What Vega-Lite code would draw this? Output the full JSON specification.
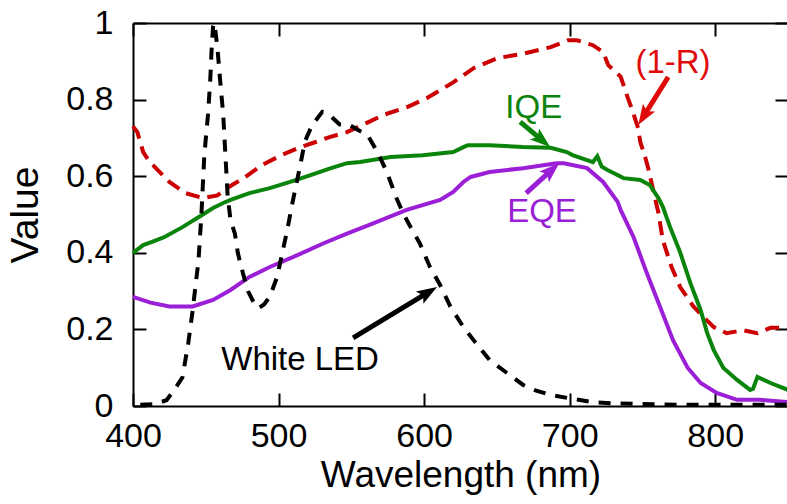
{
  "$schema": "https://vega.github.io/schema/vega-lite/v6.json",
  "width": 655,
  "height": 383,
  "autosize": {"type": "none"},
  "padding": {"left": 133, "top": 23, "right": 0, "bottom": 98},
  "background": "white",
  "config": {
    "font": "Liberation Sans",
    "view": {"stroke": null},
    "axis": {
      "labelColor": "black", "titleColor": "black", "grid": false, "labelFlush": false, "labelOverlap": false,
      "labelFont": "Liberation Sans", "titleFont": "Liberation Sans"
    }
  },
  "datasets": {
    "curves": [
      {"s": "1-R", "wl": 400, "v": 0.73}, {"s": "1-R", "wl": 403, "v": 0.715}, {"s": "1-R", "wl": 407, "v": 0.663}, {"s": "1-R", "wl": 411, "v": 0.64}, {"s": "1-R", "wl": 416, "v": 0.62}, {"s": "1-R", "wl": 425, "v": 0.585}, {"s": "1-R", "wl": 436, "v": 0.556}, {"s": "1-R", "wl": 448, "v": 0.543}, {"s": "1-R", "wl": 458, "v": 0.55}, {"s": "1-R", "wl": 465, "v": 0.57}, {"s": "1-R", "wl": 476, "v": 0.595}, {"s": "1-R", "wl": 489, "v": 0.63}, {"s": "1-R", "wl": 502, "v": 0.655}, {"s": "1-R", "wl": 515, "v": 0.676}, {"s": "1-R", "wl": 526, "v": 0.69}, {"s": "1-R", "wl": 535, "v": 0.702}, {"s": "1-R", "wl": 547, "v": 0.715}, {"s": "1-R", "wl": 561, "v": 0.74}, {"s": "1-R", "wl": 572, "v": 0.76}, {"s": "1-R", "wl": 588, "v": 0.78}, {"s": "1-R", "wl": 602, "v": 0.804}, {"s": "1-R", "wl": 620, "v": 0.845}, {"s": "1-R", "wl": 634, "v": 0.882}, {"s": "1-R", "wl": 650, "v": 0.908}, {"s": "1-R", "wl": 668, "v": 0.92}, {"s": "1-R", "wl": 687, "v": 0.937}, {"s": "1-R", "wl": 699, "v": 0.955}, {"s": "1-R", "wl": 705, "v": 0.955}, {"s": "1-R", "wl": 716, "v": 0.942}, {"s": "1-R", "wl": 723, "v": 0.924}, {"s": "1-R", "wl": 726.5, "v": 0.89}, {"s": "1-R", "wl": 735, "v": 0.86}, {"s": "1-R", "wl": 740, "v": 0.804}, {"s": "1-R", "wl": 743, "v": 0.773}, {"s": "1-R", "wl": 747, "v": 0.726}, {"s": "1-R", "wl": 748.5, "v": 0.69}, {"s": "1-R", "wl": 752, "v": 0.648}, {"s": "1-R", "wl": 754, "v": 0.62}, {"s": "1-R", "wl": 757, "v": 0.57}, {"s": "1-R", "wl": 761, "v": 0.504}, {"s": "1-R", "wl": 764, "v": 0.433}, {"s": "1-R", "wl": 770, "v": 0.363}, {"s": "1-R", "wl": 776, "v": 0.31}, {"s": "1-R", "wl": 785, "v": 0.26}, {"s": "1-R", "wl": 792, "v": 0.232}, {"s": "1-R", "wl": 799, "v": 0.206}, {"s": "1-R", "wl": 808, "v": 0.19}, {"s": "1-R", "wl": 819, "v": 0.198}, {"s": "1-R", "wl": 829, "v": 0.19}, {"s": "1-R", "wl": 838, "v": 0.204}, {"s": "1-R", "wl": 850, "v": 0.204},

      {"s": "IQE", "wl": 400, "v": 0.40}, {"s": "IQE", "wl": 407, "v": 0.42}, {"s": "IQE", "wl": 414, "v": 0.43}, {"s": "IQE", "wl": 421, "v": 0.44}, {"s": "IQE", "wl": 434, "v": 0.467}, {"s": "IQE", "wl": 448, "v": 0.50}, {"s": "IQE", "wl": 455, "v": 0.517}, {"s": "IQE", "wl": 462, "v": 0.53}, {"s": "IQE", "wl": 467, "v": 0.538}, {"s": "IQE", "wl": 480, "v": 0.556}, {"s": "IQE", "wl": 494, "v": 0.569}, {"s": "IQE", "wl": 508, "v": 0.585}, {"s": "IQE", "wl": 522, "v": 0.603}, {"s": "IQE", "wl": 535, "v": 0.62}, {"s": "IQE", "wl": 547, "v": 0.634}, {"s": "IQE", "wl": 556, "v": 0.637}, {"s": "IQE", "wl": 577, "v": 0.65}, {"s": "IQE", "wl": 599, "v": 0.655}, {"s": "IQE", "wl": 620, "v": 0.663}, {"s": "IQE", "wl": 627, "v": 0.676}, {"s": "IQE", "wl": 630, "v": 0.681}, {"s": "IQE", "wl": 645, "v": 0.681}, {"s": "IQE", "wl": 668, "v": 0.676}, {"s": "IQE", "wl": 687, "v": 0.674}, {"s": "IQE", "wl": 698, "v": 0.663}, {"s": "IQE", "wl": 702, "v": 0.655}, {"s": "IQE", "wl": 716, "v": 0.637}, {"s": "IQE", "wl": 719, "v": 0.652}, {"s": "IQE", "wl": 722, "v": 0.625}, {"s": "IQE", "wl": 726, "v": 0.616}, {"s": "IQE", "wl": 737, "v": 0.595}, {"s": "IQE", "wl": 748.5, "v": 0.59}, {"s": "IQE", "wl": 755, "v": 0.577}, {"s": "IQE", "wl": 761, "v": 0.543}, {"s": "IQE", "wl": 764, "v": 0.52}, {"s": "IQE", "wl": 769, "v": 0.467}, {"s": "IQE", "wl": 776, "v": 0.40}, {"s": "IQE", "wl": 783, "v": 0.32}, {"s": "IQE", "wl": 790, "v": 0.25}, {"s": "IQE", "wl": 794.5, "v": 0.19}, {"s": "IQE", "wl": 799, "v": 0.146}, {"s": "IQE", "wl": 805.5, "v": 0.10}, {"s": "IQE", "wl": 815, "v": 0.068}, {"s": "IQE", "wl": 824, "v": 0.042}, {"s": "IQE", "wl": 826, "v": 0.045}, {"s": "IQE", "wl": 829, "v": 0.076}, {"s": "IQE", "wl": 838, "v": 0.06}, {"s": "IQE", "wl": 850, "v": 0.042},

      {"s": "EQE", "wl": 400, "v": 0.285}, {"s": "EQE", "wl": 412, "v": 0.27}, {"s": "EQE", "wl": 425, "v": 0.26}, {"s": "EQE", "wl": 441, "v": 0.26}, {"s": "EQE", "wl": 455, "v": 0.277}, {"s": "EQE", "wl": 467, "v": 0.303}, {"s": "EQE", "wl": 480, "v": 0.337}, {"s": "EQE", "wl": 494, "v": 0.363}, {"s": "EQE", "wl": 513, "v": 0.394}, {"s": "EQE", "wl": 531, "v": 0.425}, {"s": "EQE", "wl": 547, "v": 0.45}, {"s": "EQE", "wl": 565, "v": 0.477}, {"s": "EQE", "wl": 588, "v": 0.512}, {"s": "EQE", "wl": 611, "v": 0.538}, {"s": "EQE", "wl": 620, "v": 0.559}, {"s": "EQE", "wl": 627, "v": 0.585}, {"s": "EQE", "wl": 632, "v": 0.598}, {"s": "EQE", "wl": 645, "v": 0.611}, {"s": "EQE", "wl": 668, "v": 0.621}, {"s": "EQE", "wl": 691, "v": 0.634}, {"s": "EQE", "wl": 696, "v": 0.634}, {"s": "EQE", "wl": 712, "v": 0.621}, {"s": "EQE", "wl": 723, "v": 0.585}, {"s": "EQE", "wl": 733, "v": 0.533}, {"s": "EQE", "wl": 735, "v": 0.512}, {"s": "EQE", "wl": 744, "v": 0.44}, {"s": "EQE", "wl": 753, "v": 0.347}, {"s": "EQE", "wl": 762, "v": 0.26}, {"s": "EQE", "wl": 771, "v": 0.172}, {"s": "EQE", "wl": 781, "v": 0.10}, {"s": "EQE", "wl": 790, "v": 0.06}, {"s": "EQE", "wl": 801, "v": 0.034}, {"s": "EQE", "wl": 815, "v": 0.016}, {"s": "EQE", "wl": 831, "v": 0.016}, {"s": "EQE", "wl": 850, "v": 0.01},

      {"s": "LED", "wl": 405, "v": 0.003}, {"s": "LED", "wl": 415, "v": 0.005}, {"s": "LED", "wl": 423, "v": 0.015}, {"s": "LED", "wl": 428, "v": 0.04}, {"s": "LED", "wl": 434, "v": 0.075}, {"s": "LED", "wl": 438, "v": 0.165}, {"s": "LED", "wl": 441, "v": 0.25}, {"s": "LED", "wl": 445, "v": 0.38}, {"s": "LED", "wl": 447, "v": 0.5}, {"s": "LED", "wl": 449, "v": 0.655}, {"s": "LED", "wl": 451.5, "v": 0.76}, {"s": "LED", "wl": 453, "v": 0.845}, {"s": "LED", "wl": 454, "v": 0.93}, {"s": "LED", "wl": 455, "v": 0.99}, {"s": "LED", "wl": 456, "v": 1.0}, {"s": "LED", "wl": 458, "v": 0.935}, {"s": "LED", "wl": 460, "v": 0.845}, {"s": "LED", "wl": 462, "v": 0.76}, {"s": "LED", "wl": 463.5, "v": 0.655}, {"s": "LED", "wl": 465, "v": 0.55}, {"s": "LED", "wl": 467, "v": 0.485}, {"s": "LED", "wl": 470, "v": 0.45}, {"s": "LED", "wl": 472, "v": 0.40}, {"s": "LED", "wl": 475.5, "v": 0.347}, {"s": "LED", "wl": 479, "v": 0.30}, {"s": "LED", "wl": 483, "v": 0.27}, {"s": "LED", "wl": 486, "v": 0.255}, {"s": "LED", "wl": 490, "v": 0.265}, {"s": "LED", "wl": 494, "v": 0.285}, {"s": "LED", "wl": 499, "v": 0.337}, {"s": "LED", "wl": 502, "v": 0.39}, {"s": "LED", "wl": 506, "v": 0.46}, {"s": "LED", "wl": 509.5, "v": 0.53}, {"s": "LED", "wl": 515, "v": 0.63}, {"s": "LED", "wl": 518, "v": 0.69}, {"s": "LED", "wl": 523, "v": 0.733}, {"s": "LED", "wl": 530, "v": 0.768}, {"s": "LED", "wl": 535, "v": 0.76}, {"s": "LED", "wl": 542, "v": 0.735}, {"s": "LED", "wl": 549, "v": 0.733}, {"s": "LED", "wl": 555, "v": 0.72}, {"s": "LED", "wl": 561, "v": 0.708}, {"s": "LED", "wl": 568, "v": 0.663}, {"s": "LED", "wl": 574.5, "v": 0.61}, {"s": "LED", "wl": 581, "v": 0.543}, {"s": "LED", "wl": 585.5, "v": 0.504}, {"s": "LED", "wl": 591, "v": 0.465}, {"s": "LED", "wl": 597, "v": 0.425}, {"s": "LED", "wl": 604, "v": 0.363}, {"s": "LED", "wl": 611, "v": 0.316}, {"s": "LED", "wl": 618, "v": 0.26}, {"s": "LED", "wl": 627, "v": 0.206}, {"s": "LED", "wl": 634, "v": 0.172}, {"s": "LED", "wl": 645, "v": 0.12}, {"s": "LED", "wl": 657, "v": 0.086}, {"s": "LED", "wl": 668, "v": 0.055}, {"s": "LED", "wl": 677, "v": 0.04}, {"s": "LED", "wl": 687, "v": 0.029}, {"s": "LED", "wl": 700, "v": 0.02}, {"s": "LED", "wl": 716, "v": 0.01}, {"s": "LED", "wl": 730, "v": 0.007}, {"s": "LED", "wl": 750, "v": 0.005}, {"s": "LED", "wl": 780, "v": 0.003}, {"s": "LED", "wl": 850, "v": 0.003}
    ],
    "labels": [
      {"s": "LED", "text": "White LED", "wl": 514.8, "v": 0.094},
      {"s": "IQE", "text": "IQE", "wl": 675.3, "v": 0.752},
      {"s": "EQE", "text": "EQE", "wl": 681, "v": 0.48},
      {"s": "1-R", "text": "(1-R)", "wl": 771, "v": 0.869}
    ],
    "arrows": [
      {"s": "LED", "wl": 551.2, "v": 0.178, "wl2": 601.9, "v2": 0.2945, "twl": 608.9, "tv": 0.3107},
      {"s": "IQE", "wl": 666, "v": 0.742, "wl2": 680.3, "v2": 0.696, "twl": 686.6, "tv": 0.676},
      {"s": "EQE", "wl": 670.1, "v": 0.556, "wl2": 686.7, "v2": 0.613, "twl": 692.8, "tv": 0.634},
      {"s": "1-R", "wl": 767.7, "v": 0.859, "wl2": 751.4, "v2": 0.76, "twl": 747.1, "tv": 0.734}
    ]
  },
  "resolve": {"axis": {"x": "independent", "y": "independent"}},
  "layer": [
    {
      "data": {"name": "curves"},
      "transform": [{"filter": "datum.s === '1-R'"}],
      "mark": {"type": "line", "color": "#cc0000", "strokeWidth": 4, "strokeDash": [14, 8]},
      "encoding": {
        "x": {"field": "wl", "type": "quantitative", "scale": {"domain": [400, 850], "nice": false, "zero": false},
              "axis": {"orient": "bottom", "values": [400, 500, 600, 700, 800], "domain": true, "domainColor": "#000000", "domainWidth": 2,
                       "ticks": false, "labelPadding": 13,
                       "labelFontSize": 34, "title": "Wavelength (nm)", "titleFontSize": 37, "titleFontWeight": "normal", "titlePadding": 4}},
        "y": {"field": "v", "type": "quantitative", "scale": {"domain": [0, 1], "nice": false, "zero": false},
              "axis": {"orient": "left", "values": [0, 0.2, 0.4, 0.6, 0.8, 1], "format": "~g", "domain": true, "domainColor": "#000000", "domainWidth": 2,
                       "ticks": false, "labelPadding": 20,
                       "labelFontSize": 34, "title": "Value", "titleFontSize": 39, "titleFontWeight": "normal", "titlePadding": 20}}
      }
    },
    {
      "data": {"name": "curves"},
      "transform": [{"filter": "datum.s === 'IQE'"}],
      "mark": {"type": "line", "color": "#0a840a", "strokeWidth": 4},
      "encoding": {
        "x": {"field": "wl", "type": "quantitative", "scale": {"domain": [400, 850], "nice": false, "zero": false},
              "axis": {"orient": "top", "values": [400, 500, 600, 700, 800], "labels": false, "title": null, "domain": true, "domainColor": "#000000", "domainWidth": 2, "ticks": true, "tickColor": "#000000", "tickWidth": 2, "tickSize": -13}},
        "y": {"field": "v", "type": "quantitative", "scale": {"domain": [0, 1], "nice": false, "zero": false},
              "axis": {"orient": "right", "values": [0, 0.2, 0.4, 0.6, 0.8, 1], "labels": false, "title": null, "domain": true, "domainColor": "#000000", "domainWidth": 2, "ticks": true, "tickColor": "#000000", "tickWidth": 2, "tickSize": -13}}
      }
    },
    {
      "data": {"name": "curves"},
      "transform": [{"filter": "datum.s === 'EQE'"}],
      "mark": {"type": "line", "color": "#9b1fd6", "strokeWidth": 4},
      "encoding": {
        "x": {"field": "wl", "type": "quantitative", "scale": {"domain": [400, 850], "nice": false, "zero": false},
              "axis": {"orient": "bottom", "values": [400, 500, 600, 700, 800], "labels": false, "title": null, "domain": false, "ticks": true, "tickColor": "#000000", "tickWidth": 2, "tickSize": -13}},
        "y": {"field": "v", "type": "quantitative", "scale": {"domain": [0, 1], "nice": false, "zero": false},
              "axis": {"orient": "left", "values": [0, 0.2, 0.4, 0.6, 0.8, 1], "labels": false, "title": null, "domain": false, "ticks": true, "tickColor": "#000000", "tickWidth": 2, "tickSize": -13}}
      }
    },
    {
      "data": {"name": "curves"},
      "transform": [{"filter": "datum.s === 'LED'"}],
      "mark": {"type": "line", "color": "black", "strokeWidth": 4, "strokeDash": [12, 10]},
      "encoding": {
        "x": {"field": "wl", "type": "quantitative", "scale": {"domain": [400, 850], "nice": false, "zero": false}, "axis": null},
        "y": {"field": "v", "type": "quantitative", "scale": {"domain": [0, 1], "nice": false, "zero": false}, "axis": null}
      }
    },
    {
      "data": {"name": "arrows"},
      "mark": {"type": "rule", "strokeWidth": 5, "strokeCap": "butt"},
      "encoding": {
        "x": {"field": "wl", "type": "quantitative", "scale": {"domain": [400, 850], "nice": false, "zero": false}, "axis": null},
        "y": {"field": "v", "type": "quantitative", "scale": {"domain": [0, 1], "nice": false, "zero": false}, "axis": null},
        "x2": {"field": "wl2"},
        "y2": {"field": "v2"},
        "color": {"field": "s", "type": "nominal", "scale": {"domain": ["LED", "IQE", "EQE", "1-R"], "range": ["#000000", "#0a840a", "#9b1fd6", "#e00a0a"]}, "legend": null}
      }
    },
    {
      "data": {"name": "arrows"},
      "transform": [{"filter": "datum.s === 'LED'"}],
      "mark": {"type": "point", "shape": "M0,0L0.6,1.7L0,1.35L-0.6,1.7Z", "filled": true, "size": 576, "angle": 58.7, "color": "#000000", "opacity": 1},
      "encoding": {
        "x": {"field": "twl", "type": "quantitative", "scale": {"domain": [400, 850], "nice": false, "zero": false}, "axis": null},
        "y": {"field": "tv", "type": "quantitative", "scale": {"domain": [0, 1], "nice": false, "zero": false}, "axis": null}
      }
    },
    {
      "data": {"name": "arrows"},
      "transform": [{"filter": "datum.s === 'IQE'"}],
      "mark": {"type": "point", "shape": "M0,0L0.6,1.7L0,1.35L-0.6,1.7Z", "filled": true, "size": 576, "angle": 129.8, "color": "#0a840a", "opacity": 1},
      "encoding": {
        "x": {"field": "twl", "type": "quantitative", "scale": {"domain": [400, 850], "nice": false, "zero": false}, "axis": null},
        "y": {"field": "tv", "type": "quantitative", "scale": {"domain": [0, 1], "nice": false, "zero": false}, "axis": null}
      }
    },
    {
      "data": {"name": "arrows"},
      "transform": [{"filter": "datum.s === 'EQE'"}],
      "mark": {"type": "point", "shape": "M0,0L0.6,1.7L0,1.35L-0.6,1.7Z", "filled": true, "size": 576, "angle": 47.7, "color": "#9b1fd6", "opacity": 1},
      "encoding": {
        "x": {"field": "twl", "type": "quantitative", "scale": {"domain": [400, 850], "nice": false, "zero": false}, "axis": null},
        "y": {"field": "tv", "type": "quantitative", "scale": {"domain": [0, 1], "nice": false, "zero": false}, "axis": null}
      }
    },
    {
      "data": {"name": "arrows"},
      "transform": [{"filter": "datum.s === '1-R'"}],
      "mark": {"type": "point", "shape": "M0,0L0.6,1.7L0,1.35L-0.6,1.7Z", "filled": true, "size": 576, "angle": 212, "color": "#e00a0a", "opacity": 1},
      "encoding": {
        "x": {"field": "twl", "type": "quantitative", "scale": {"domain": [400, 850], "nice": false, "zero": false}, "axis": null},
        "y": {"field": "tv", "type": "quantitative", "scale": {"domain": [0, 1], "nice": false, "zero": false}, "axis": null}
      }
    },
    {
      "data": {"name": "labels"},
      "mark": {"type": "text", "align": "center", "baseline": "alphabetic", "fontSize": 33, "font": "Liberation Sans"},
      "encoding": {
        "x": {"field": "wl", "type": "quantitative", "scale": {"domain": [400, 850], "nice": false, "zero": false}, "axis": null},
        "y": {"field": "v", "type": "quantitative", "scale": {"domain": [0, 1], "nice": false, "zero": false}, "axis": null},
        "text": {"field": "text"},
        "color": {"field": "s", "type": "nominal", "scale": {"domain": ["LED", "IQE", "EQE", "1-R"], "range": ["#000000", "#0a840a", "#9b1fd6", "#e00a0a"]}, "legend": null}
      }
    }
  ]
}
